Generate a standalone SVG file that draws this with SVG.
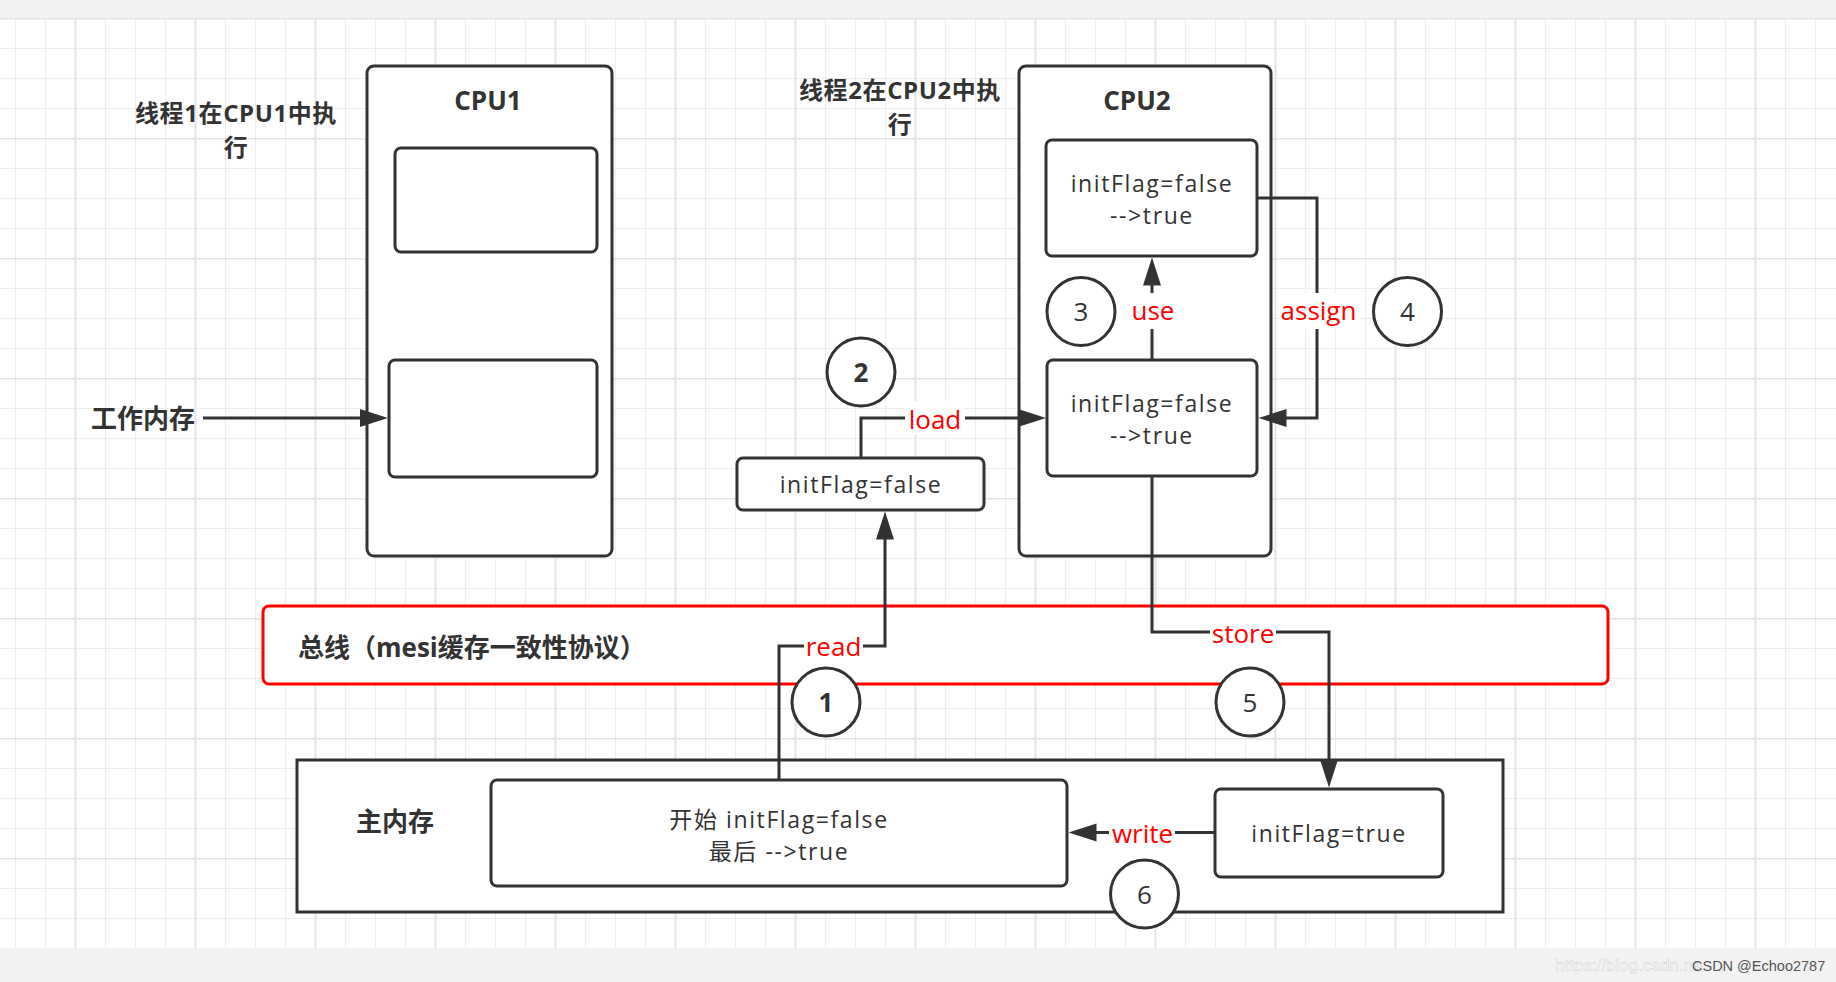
<svg xmlns="http://www.w3.org/2000/svg" width="1836" height="982" viewBox="0 0 1836 982">
<style>
.box{fill:#fff;stroke:#333;stroke-width:3}
.bus{fill:#fff;stroke:#ff0000;stroke-width:3}
.circ{fill:#fff;stroke:#333;stroke-width:3}
.conn{fill:none;stroke:#333;stroke-width:3;marker-end:url(#arr)}
.b{font-family:"Open Sans","Noto Sans CJK SC",sans-serif;font-weight:700;font-size:26px;fill:#333}
.b2{font-family:"Open Sans","Noto Sans CJK SC",sans-serif;font-weight:700;font-size:24px;fill:#333;text-anchor:middle;letter-spacing:0.6px}
.t{font-family:"Open Sans","Noto Sans CJK SC",sans-serif;font-weight:400;font-size:23px;fill:#333;text-anchor:middle;letter-spacing:1.6px}
.n{font-family:"Open Sans","Noto Sans CJK SC",sans-serif;font-weight:400;font-size:26px;fill:#333;text-anchor:middle}
.r{font-family:"Open Sans","Noto Sans CJK SC",sans-serif;font-weight:400;font-size:26px;fill:#ff0000;text-anchor:middle}
.lbg{fill:#fff}
.c{text-anchor:middle}
</style>
<defs>
<pattern id="grid" patternUnits="userSpaceOnUse" x="15" y="18" width="120" height="120">
<path d="M0.5 0V120M30.5 0V120M90.5 0V120M0 30.5H120M0 60.5H120M0 90.5H120" stroke="#ededed" stroke-width="1" fill="none"/>
<path d="M60.5 0V120M0 0.5H120" stroke="#e4e4e4" stroke-width="2" fill="none"/>
</pattern>
<marker id="arr" markerUnits="userSpaceOnUse" markerWidth="30" markerHeight="20" refX="18" refY="9" orient="auto">
<path d="M0,0 L28,9 L0,18 Z" fill="#333"/>
</marker>
</defs>
<rect x="0" y="0" width="1836" height="982" fill="#f2f2f2"/>
<rect x="0" y="18" width="1836" height="930" fill="#fff"/>
<rect x="0" y="18" width="1836" height="930" fill="url(#grid)"/>

<g id="label-thread1">
<text class="b2" x="236" y="122">线程1在CPU1中执<tspan x="236" dy="34">行</tspan></text>
</g>
<g id="label-thread2">
<text class="b2" x="900" y="99">线程2在CPU2中执<tspan x="900" dy="34">行</tspan></text>
</g>
<g id="label-workmem">
<text class="b" x="91" y="428">工作内存</text>
</g>

<g id="cpu1">
<rect class="box" x="367" y="66" width="245" height="490" rx="7"/>
<text class="b c" x="488" y="110">CPU1</text>
</g>
<g id="cpu1-cache1"><rect class="box" x="395" y="148" width="202" height="104" rx="6"/></g>
<g id="cpu1-cache2"><rect class="box" x="389" y="360" width="208" height="117" rx="6"/></g>

<g id="cpu2">
<rect class="box" x="1019" y="66" width="252" height="490" rx="7"/>
<text class="b c" x="1137" y="110">CPU2</text>
</g>
<g id="cpu2-top">
<rect class="box" x="1046" y="140" width="211" height="116" rx="6"/>
<text class="t" x="1152" y="192">initFlag=false<tspan x="1152" dy="32">--&gt;true</tspan></text>
</g>
<g id="cpu2-bottom">
<rect class="box" x="1047" y="360" width="210" height="116" rx="6"/>
<text class="t" x="1152" y="412">initFlag=false<tspan x="1152" dy="32">--&gt;true</tspan></text>
</g>
<g id="read-value">
<rect class="box" x="737" y="458" width="247" height="52" rx="6"/>
<text class="t" x="861" y="493">initFlag=false</text>
</g>

<g id="bus">
<rect class="bus" x="263" y="606" width="1345" height="78" rx="6"/>
<text class="b" x="298" y="657">总线（mesi缓存一致性协议）</text>
</g>

<g id="main-memory">
<rect class="box" x="297" y="760" width="1206" height="152"/>
<text class="b c" x="395" y="831">主内存</text>
</g>
<g id="main-value">
<rect class="box" x="491" y="780" width="576" height="106" rx="6"/>
<text class="t" x="779" y="828">开始 initFlag=false<tspan x="779" dy="32">最后 --&gt;true</tspan></text>
</g>
<g id="true-value">
<rect class="box" x="1215" y="789" width="228" height="88" rx="6"/>
<text class="t" x="1329" y="842">initFlag=true</text>
</g>

<g id="connectors">
<path class="conn" d="M203,418 H378"/>
<path class="conn" d="M861,457 V418 H1036"/>
<path class="conn" d="M1152,360 V267.5"/>
<path class="conn" d="M1257,198 H1317 V418 H1268.5"/>
<path class="conn" d="M779,780 V646 H885 V521.5"/>
<path class="conn" d="M1152,476 V632 H1329 V777.5"/>
<path class="conn" d="M1215,832.5 H1078.5"/>
<rect class="lbg" x="905" y="401" width="60" height="34"/>
<text class="r" x="935" y="428.5">load</text>
<rect class="lbg" x="1130" y="293" width="46" height="36"/>
<text class="r" x="1153" y="320">use</text>
<rect class="lbg" x="1279" y="293" width="80" height="36"/>
<text class="r" x="1318.5" y="320">assign</text>
<rect class="lbg" x="804" y="629" width="59" height="34"/>
<text class="r" x="833.5" y="656">read</text>
<rect class="lbg" x="1210" y="615" width="66" height="34"/>
<text class="r" x="1243" y="643">store</text>
<rect class="lbg" x="1109" y="816" width="66" height="34"/>
<text class="r" x="1142.5" y="843">write</text>
</g>

<g id="step1"><circle class="circ" cx="826" cy="702" r="34"/><text class="b c" x="826" y="711.5">1</text></g>
<g id="step2"><circle class="circ" cx="861" cy="372" r="34"/><text class="b c" x="861" y="381.5">2</text></g>
<g id="step3"><circle class="circ" cx="1081" cy="311.5" r="34"/><text class="n" x="1081" y="321">3</text></g>
<g id="step4"><circle class="circ" cx="1407.5" cy="311.5" r="34"/><text class="n" x="1407.5" y="321">4</text></g>
<g id="step5"><circle class="circ" cx="1250" cy="702" r="34"/><text class="n" x="1250" y="711.5">5</text></g>
<g id="step6"><circle class="circ" cx="1144.5" cy="894" r="34"/><text class="n" x="1144.5" y="903.5">6</text></g>

<g id="watermark">
<text x="1555" y="971" font-family="Liberation Sans, Arial, sans-serif" font-size="17" fill="#ffffff" stroke="#d6d6d6" stroke-width="0.6">https://blog.csdn.ne</text>
<text x="1692" y="971" font-family="Liberation Sans, Arial, sans-serif" font-size="14.5" fill="#555">CSDN @Echoo2787</text>
</g>
</svg>
